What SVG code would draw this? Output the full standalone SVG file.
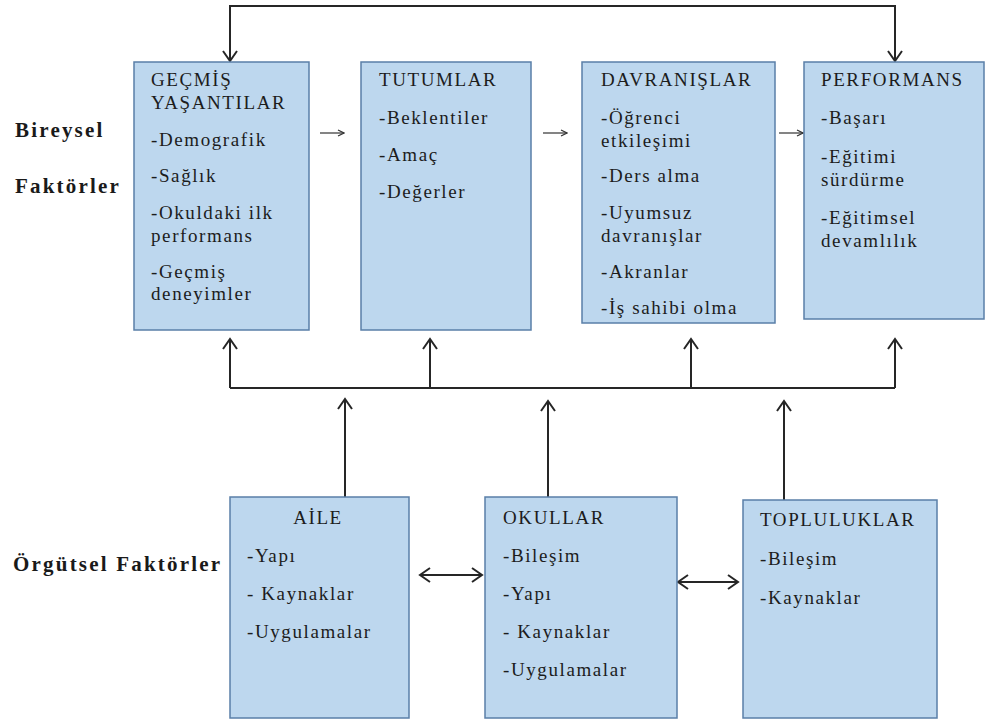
<svg xmlns="http://www.w3.org/2000/svg" width="989" height="719" viewBox="0 0 989 719">
<style>
.box{fill:#bdd7ee;stroke:#5a7fa8;stroke-width:1.5}
.t{font-size:19px;fill:#1c1c1c;letter-spacing:1.6px}
.lbl{font-size:21px;font-weight:bold;fill:#1a1a1a;letter-spacing:2.2px}
.ln{fill:none;stroke:#262626;stroke-width:2}
.sm{fill:none;stroke:#333;stroke-width:1.2}
</style>
<defs>
<marker id="ah" viewBox="-12 -9 14 18" markerWidth="14" markerHeight="18" refX="0" refY="0" orient="auto-start-reverse" markerUnits="userSpaceOnUse">
<path d="M-10,-7 L0,0 L-10,7" fill="none" stroke="#262626" stroke-width="2"/>
</marker>
<marker id="as" viewBox="-8 -5 9 10" markerWidth="9" markerHeight="10" refX="0" refY="0" orient="auto" markerUnits="userSpaceOnUse">
<path d="M-6,-3 L0,0 L-6,3" fill="none" stroke="#333" stroke-width="1.2"/>
</marker>
</defs>
<rect width="989" height="719" fill="#ffffff"/>
<g font-family="Liberation Serif, DejaVu Serif, serif">
<g id="labels">
<text class="lbl" x="15" y="137">Bireysel</text>
<text class="lbl" x="15" y="193">Faktörler</text>
<text class="lbl" x="13" y="571">Örgütsel Faktörler</text>
</g>

<g id="connectors">
<path class="ln" d="M230,61 V6 H895 V61" marker-start="url(#ah)" marker-end="url(#ah)"/>
<line class="sm" x1="320" y1="133" x2="344" y2="133" marker-end="url(#as)"/>
<line class="sm" x1="543" y1="133" x2="567" y2="133" marker-end="url(#as)"/>
<line class="sm" x1="779" y1="133" x2="803" y2="133" marker-end="url(#as)"/>
<path class="ln" d="M230,388 H895"/>
<line class="ln" x1="230" y1="388" x2="230" y2="339" marker-end="url(#ah)"/>
<line class="ln" x1="430" y1="388" x2="430" y2="339" marker-end="url(#ah)"/>
<line class="ln" x1="691" y1="388" x2="691" y2="339" marker-end="url(#ah)"/>
<line class="ln" x1="895" y1="388" x2="895" y2="339" marker-end="url(#ah)"/>
<line class="ln" x1="345" y1="497" x2="345" y2="399" marker-end="url(#ah)"/>
<line class="ln" x1="548" y1="497" x2="548" y2="401" marker-end="url(#ah)"/>
<line class="ln" x1="784" y1="500" x2="784" y2="401" marker-end="url(#ah)"/>
<line class="ln" x1="420" y1="575" x2="482" y2="575" marker-start="url(#ah)" marker-end="url(#ah)"/>
<line class="ln" x1="678" y1="582" x2="738" y2="582" marker-start="url(#ah)" marker-end="url(#ah)"/>
</g>

<g id="gecmis">
<rect class="box" x="134" y="62" width="175" height="268"/>
<text class="t" x="151" y="86">GEÇMİŞ</text>
<text class="t" x="151" y="109">YAŞANTILAR</text>
<text class="t" x="151" y="146">-Demografik</text>
<text class="t" x="151" y="182">-Sağlık</text>
<text class="t" x="151" y="219">-Okuldaki ilk</text>
<text class="t" x="151" y="242">performans</text>
<text class="t" x="151" y="278">-Geçmiş</text>
<text class="t" x="151" y="300">deneyimler</text>
</g>

<g id="tutumlar">
<rect class="box" x="361" y="62" width="170" height="268"/>
<text class="t" x="379" y="86">TUTUMLAR</text>
<text class="t" x="379" y="124">-Beklentiler</text>
<text class="t" x="379" y="161">-Amaç</text>
<text class="t" x="379" y="198">-Değerler</text>
</g>

<g id="davranislar">
<rect class="box" x="582" y="62" width="193" height="261"/>
<text class="t" x="601" y="86">DAVRANIŞLAR</text>
<text class="t" x="601" y="124">-Öğrenci</text>
<text class="t" x="601" y="147">etkileşimi</text>
<text class="t" x="601" y="182">-Ders alma</text>
<text class="t" x="601" y="219">-Uyumsuz</text>
<text class="t" x="601" y="242">davranışlar</text>
<text class="t" x="601" y="278">-Akranlar</text>
<text class="t" x="601" y="314">-İş sahibi olma</text>
</g>

<g id="performans">
<rect class="box" x="804" y="62" width="180" height="257"/>
<text class="t" x="821" y="86">PERFORMANS</text>
<text class="t" x="821" y="124">-Başarı</text>
<text class="t" x="821" y="163">-Eğitimi</text>
<text class="t" x="821" y="186">sürdürme</text>
<text class="t" x="821" y="224">-Eğitimsel</text>
<text class="t" x="821" y="247">devamlılık</text>
</g>

<g id="aile">
<rect class="box" x="230" y="497" width="179" height="221"/>
<text class="t" x="318" y="524" text-anchor="middle">AİLE</text>
<text class="t" x="247" y="562">-Yapı</text>
<text class="t" x="247" y="600">- Kaynaklar</text>
<text class="t" x="247" y="638">-Uygulamalar</text>
</g>

<g id="okullar">
<rect class="box" x="485" y="497" width="192" height="221"/>
<text class="t" x="503" y="524">OKULLAR</text>
<text class="t" x="503" y="562">-Bileşim</text>
<text class="t" x="503" y="600">-Yapı</text>
<text class="t" x="503" y="638">- Kaynaklar</text>
<text class="t" x="503" y="676">-Uygulamalar</text>
</g>

<g id="topluluklar">
<rect class="box" x="743" y="500" width="194" height="218"/>
<text class="t" x="760" y="526">TOPLULUKLAR</text>
<text class="t" x="760" y="565">-Bileşim</text>
<text class="t" x="760" y="604">-Kaynaklar</text>
</g>
</g>
</svg>
